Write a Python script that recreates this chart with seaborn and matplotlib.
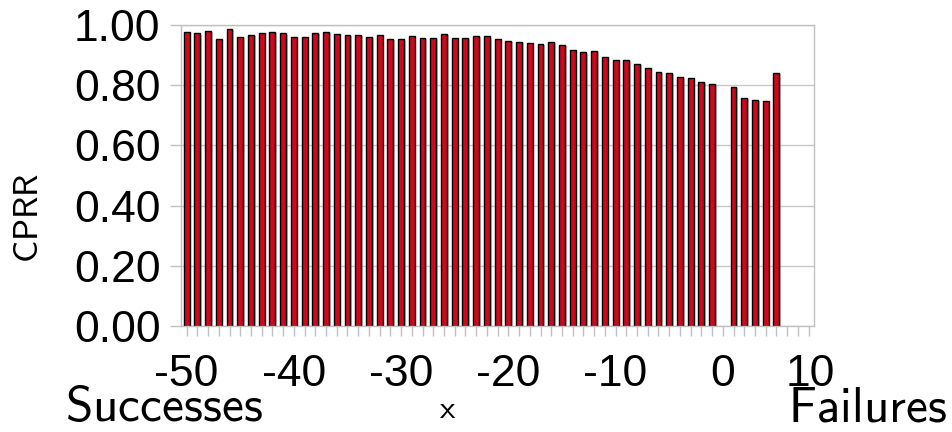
import numpy as np
import pandas as pd
import matplotlib
matplotlib.use("Agg")
import matplotlib.pyplot as plt
import matplotlib.patheffects as pe
import seaborn as sns

# data
x_levels = list(range(-50, 9))
neg_x = list(range(-50, 0))
neg_cprr = [0.978, 0.972, 0.980, 0.955, 0.987, 0.961, 0.968, 0.972, 0.976, 0.972,
            0.959, 0.959, 0.974, 0.978, 0.969, 0.966, 0.966, 0.959, 0.966, 0.953,
            0.952, 0.964, 0.958, 0.958, 0.970, 0.958, 0.958, 0.964, 0.962, 0.952,
            0.946, 0.945, 0.939, 0.937, 0.944, 0.933, 0.918, 0.909, 0.915, 0.893,
            0.885, 0.885, 0.870, 0.858, 0.845, 0.840, 0.828, 0.823, 0.811, 0.804]
pos_x = [1, 2, 3, 4, 5]
pos_cprr = [0.794, 0.757, 0.750, 0.748, 0.840]
xtick_labels = ["-50", "-40", "-30", "-20", "-10", "0", "10"]
ytick_vals = [0.0, 0.2, 0.4, 0.6, 0.8, 1.0]

df = pd.DataFrame({"x": neg_x + pos_x, "CPRR": neg_cprr + pos_cprr})

sns.set_style("white")
plt.rcParams["font.family"] = ["Liberation Sans", "DejaVu Sans"]
plt.rcParams["mathtext.fontset"] = "cm"
plt.rcParams["text.color"] = "black"
plt.rcParams["axes.labelcolor"] = "black"
plt.rcParams["xtick.labelcolor"] = "black"
plt.rcParams["ytick.labelcolor"] = "black"

fig = plt.figure(figsize=(9.53, 4.32), dpi=100)
ax = fig.add_axes([0.1902, 0.2454, 0.8541 - 0.1902, 0.9421 - 0.2454])

sns.barplot(data=df, x="x", y="CPRR", order=x_levels, color="#cc0a1e",
            saturation=1, edgecolor="black", linewidth=1.0, width=0.55,
            errorbar=None, ax=ax)
for p in ax.patches:
    p.set_path_effects([pe.SimplePatchShadow(offset=(1.2, -0.8), shadow_rgbFace="#808080", alpha=0.5),
                        pe.Normal()])

ax.set_xlim(-0.5, 58.5)
ax.set_ylim(0, 1)

# y axis
ax.set_yticks(ytick_vals)
ax.set_yticklabels(["%.2f" % v for v in ytick_vals])
ax.yaxis.grid(True, color="#c8c8c8", linewidth=1.0)
ax.set_axisbelow(True)
ax.tick_params(axis="y", left=True, length=8, width=1, color="#c0c0c0",
               pad=7, labelsize=32, labelcolor="black")

# x axis: minor ticks every category, labels every 10
ax.xaxis.remove_overlapping_locs = False
ax.set_xticks([x_levels.index(v) for v in x_levels], minor=True)
major_pos = [x_levels.index(v) for v in [-50, -40, -30, -20, -10, 0]] + [58.2]
ax.set_xticks(major_pos)
ax.set_xticklabels(xtick_labels)
ax.tick_params(axis="x", which="minor", bottom=True, length=7, width=1, color="#c0c0c0")
ax.tick_params(axis="x", which="major", bottom=True, length=0, pad=20, labelsize=32,
               labelcolor="black")

for s in ax.spines.values():
    s.set_color("#c0c0c0")
    s.set_linewidth(1.0)

ax.set_xlabel(r"$\mathsf{x}$", fontsize=24, color="black")
ax.xaxis.set_label_coords(0.421, -0.306)
ax.xaxis.label.set_va("baseline")
ax.set_ylabel(r"$\mathsf{CPRR}$", fontsize=25, color="black")
ax.yaxis.set_label_coords(-0.241, 0.36)
ax.yaxis.label.set_va("center")

fig.text(65 / 953, 1 / 432, r"$\mathsf{Successes}$", fontsize=35.5, ha="left", va="bottom",
         color="black")
fig.text(788 / 953, 1 / 432, r"$\mathsf{Failures}$", fontsize=35.5, ha="left", va="bottom",
         color="black")

fig.savefig("out.png", dpi=100)
